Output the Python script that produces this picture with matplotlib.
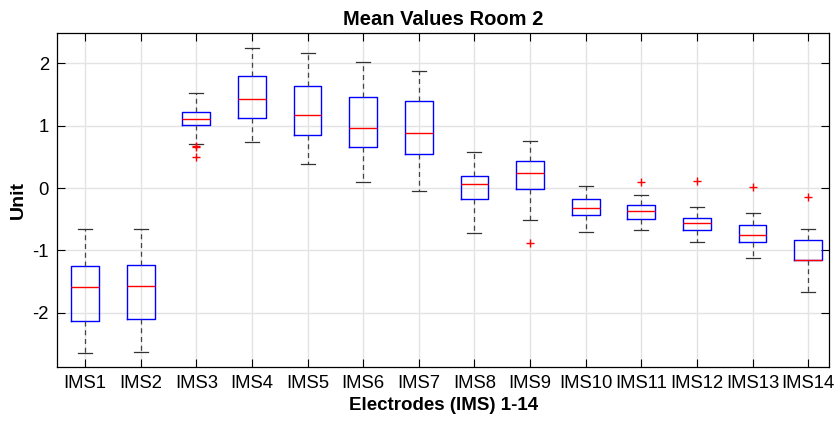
import numpy as np
import matplotlib
matplotlib.use("Agg")
import matplotlib.pyplot as plt

plt.rcParams['font.family'] = ['Liberation Sans', 'DejaVu Sans']
plt.rcParams['axes.unicode_minus'] = False

# box summary values
labels = ['IMS%d' % i for i in range(1, 15)]
whis_hi = [-0.65, -0.65, 1.52, 2.24, 2.17, 2.02, 1.88, 0.58, 0.75, 0.04, -0.12, -0.30, -0.40, -0.66]
q3 = [-1.25, -1.23, 1.225, 1.80, 1.63, 1.46, 1.39, 0.20, 0.43, -0.18, -0.27, -0.48, -0.60, -0.83]
med = [-1.58, -1.57, 1.10, 1.42, 1.17, 0.96, 0.88, 0.06, 0.24, -0.32, -0.37, -0.56, -0.75, -1.16]
q1 = [-2.13, -2.10, 1.006, 1.13, 0.85, 0.65, 0.55, -0.17, -0.02, -0.43, -0.49, -0.67, -0.86, -1.16]
whis_lo = [-2.64, -2.63, 0.71, 0.74, 0.39, 0.09, -0.04, -0.72, -0.51, -0.70, -0.67, -0.87, -1.12, -1.67]
outliers = [[], [], [0.67, 0.655, 0.50], [], [], [], [], [], [-0.88],
            [], [0.09], [0.12], [0.016], [-0.15]]

stats = []
for i in range(len(labels)):
    stats.append(dict(label=labels[i], whislo=whis_lo[i], q1=q1[i], med=med[i],
                      q3=q3[i], whishi=whis_hi[i], fliers=outliers[i]))

fig = plt.figure(figsize=(8.35, 4.24), dpi=100)
ax = fig.add_axes([0.0686, 0.1344, 0.9246, 0.787])

ax.bxp(stats, positions=np.arange(1, 15), widths=0.5, showfliers=True,
       boxprops=dict(color='blue', linewidth=1.0),
       medianprops=dict(color='red', linewidth=1.0),
       whiskerprops=dict(color='#444444', linewidth=0.9, linestyle=(0, (4, 3))),
       capprops=dict(color='#333333', linewidth=0.9),
       flierprops=dict(marker='+', markeredgecolor='red', markersize=6, markeredgewidth=1.0))

ax.set_xlim(0.5, 14.38)
ax.set_ylim(-2.87, 2.48)
ax.set_yticks([-2, -1, 0, 1, 2])
ax.set_xticks(np.arange(1, 15))
ax.set_xticklabels(labels)
ax.grid(True, color='#e3e3e3', linewidth=1.0)
ax.set_axisbelow(True)
ax.tick_params(direction='in', length=5.5, width=0.8, top=True, right=True,
               labelsize=13.3, pad=6)
for s in ax.spines.values():
    s.set_linewidth(0.9)

ax.set_title('Mean Values Room 2', fontsize=14.5, fontweight='bold', pad=6)
ax.set_xlabel('Electrodes (IMS) 1-14', fontsize=13.5, fontweight='bold', labelpad=3)
ax.set_ylabel('Unit', fontsize=14, fontweight='bold', labelpad=4)

fig.savefig('out.png', dpi=100)
